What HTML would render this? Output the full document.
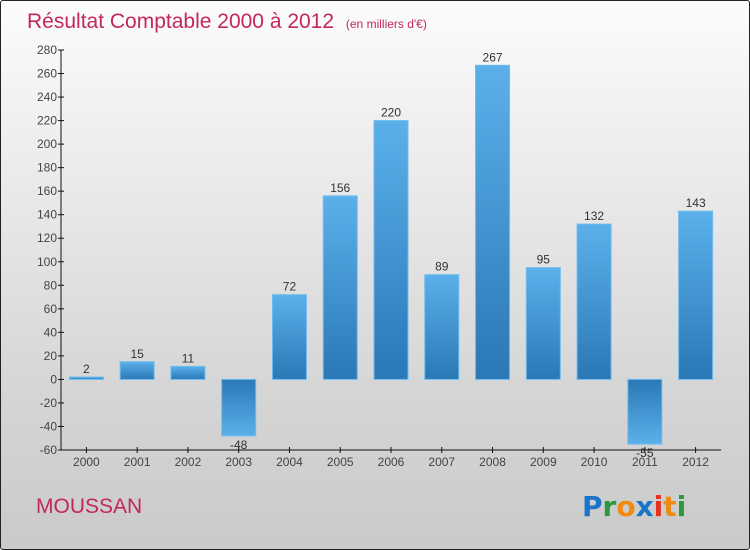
<!DOCTYPE html>
<html><head><meta charset="utf-8"><style>
body{margin:0;width:750px;height:550px;overflow:hidden;font-family:"Liberation Sans",sans-serif}
#frame{position:absolute;left:0;top:0;width:748px;height:548px;border:1px solid #222;border-radius:3px;background:linear-gradient(#fcfcfc,#d6d6d6 70%,#cacaca)}
</style></head><body>
<div id="frame"></div>
<svg id="chart" width="750" height="550" style="position:absolute;left:0;top:0">
<defs>
<linearGradient id="gp" x1="0" y1="0" x2="0" y2="1"><stop offset="0" stop-color="#5cb0ea"/><stop offset="1" stop-color="#2a78b6"/></linearGradient>
<linearGradient id="gn" x1="0" y1="0" x2="0" y2="1"><stop offset="0" stop-color="#2a78b6"/><stop offset="1" stop-color="#5cb0ea"/></linearGradient>
</defs>
<text x="27" y="28" font-size="21" fill="#c2285a">Résultat Comptable 2000 à 2012 <tspan font-size="12" dx="6">(en milliers d'€)</tspan></text>
<text x="36" y="513" font-size="21" fill="#c2285a">MOUSSAN</text>
<g font-size="28" font-weight="bold" font-family="'DejaVu Sans',sans-serif">
<text x="582" y="516"><tspan fill="#1a75c8">P</tspan><tspan fill="#2a9a3a">r</tspan><tspan fill="#f08a10">o</tspan><tspan fill="#1a75c8">x</tspan><tspan fill="#e83020">i</tspan><tspan fill="#f08a10">t</tspan><tspan fill="#2a9a3a">i</tspan></text>
</g>
<g id="axes"></g><g id="bars"></g>
</svg>
<script>
const years=["2000","2001","2002","2003","2004","2005","2006","2007","2008","2009","2010","2011","2012"];
const values=[2,15,11,-48,72,156,220,89,267,95,132,-55,143];
const yTicks=[-60,-40,-20,0,20,40,60,80,100,120,140,160,180,200,220,240,260,280];
const NS="http://www.w3.org/2000/svg";
const x0=61,x1=721,yMin=-60,yMax=280,yTop=50,yBot=450;
const band=(x1-x0)/years.length,bw=34;
const y=v=>yBot-(v-yMin)/(yMax-yMin)*(yBot-yTop);
const xc=i=>x0+band*(i+0.5);
function mk(t,a,p){const e=document.createElementNS(NS,t);for(const k in a)e.setAttribute(k,a[k]);p.appendChild(e);return e;}
const ax=document.getElementById('axes'),bg=document.getElementById('bars');
let l=mk('line',{x1:x0,y1:yTop,x2:x0,y2:yBot,stroke:'#111'},ax);


l=mk('line',{x1:x0,y1:yBot,x2:x1,y2:yBot,stroke:'#111'},ax);


yTicks.forEach(v=>{
 mk('line',{x1:x0-3,y1:y(v),x2:x0+3,y2:y(v),stroke:'#111'},ax);
 const t=mk('text',{x:x0-4,y:y(v)+4,'font-size':12,fill:'#444','text-anchor':'end'},ax);
 t.textContent=v;
 
 
});
years.forEach((yr,i)=>{
 mk('line',{x1:xc(i),y1:yBot-3,x2:xc(i),y2:yBot+3,stroke:'#111'},ax);
 const t=mk('text',{x:xc(i),y:yBot+16,'font-size':12,fill:'#444','text-anchor':'middle'},ax);
 t.textContent=yr;
 
 
 const v=values[i],top=Math.min(y(v),y(0)),h=Math.max(Math.abs(y(v)-y(0)),2);
 const r=mk('rect',{x:xc(i)-bw/2,y:top,width:bw,height:h,fill:v>=0?'url(#gp)':'url(#gn)',stroke:'#6bbcf0','stroke-width':1},bg);
 
 
 const lt=mk('text',{x:xc(i),y:v>=0?y(v)-4:y(v)+13,'font-size':12,fill:'#333','text-anchor':'middle'},bg);
 lt.textContent=v;
 
 
});
</script>
</body></html>
